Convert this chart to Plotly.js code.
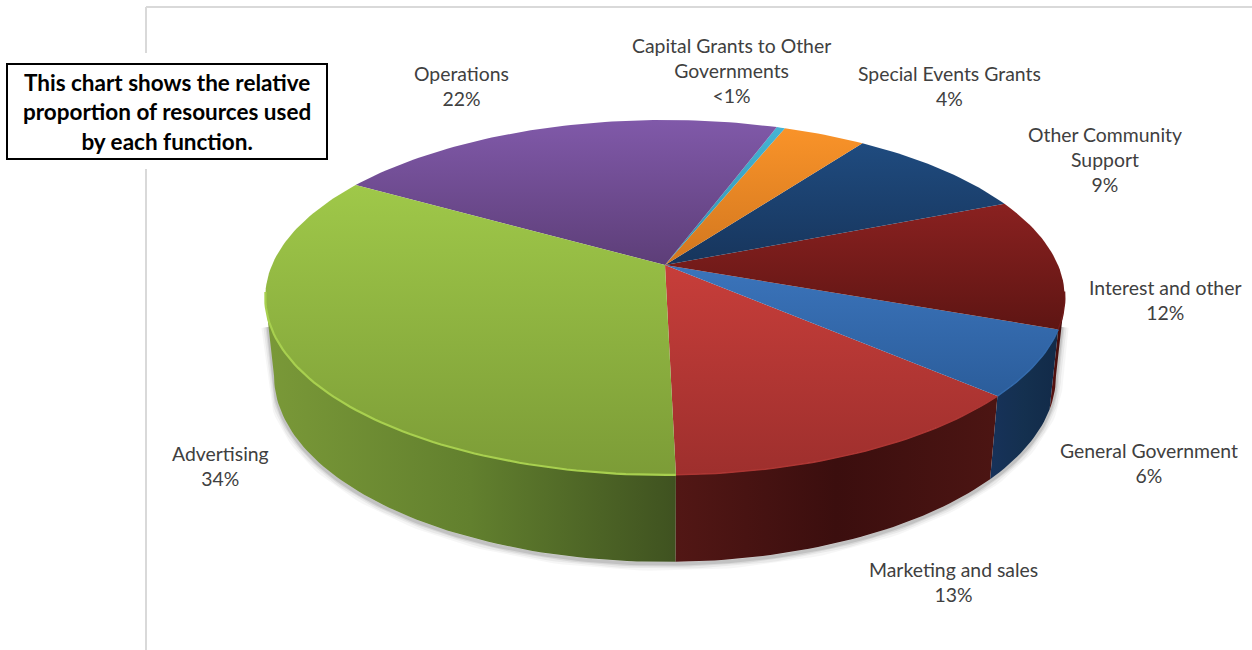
<!DOCTYPE html>
<html>
<head>
<meta charset="utf-8">
<script src="https://cdn.plot.ly/plotly-3.0.1.min.js"></script>
<style>html,body{margin:0;padding:0;background:#fff}#chart{width:1252px;height:650px}</style>
</head>
<body>
<div id="chart"></div>
<script>
// Share of resources by function, clockwise from the front of the pie.
const categories = ["Marketing and sales", "General Government", "Interest and other",
  "Other Community Support", "Special Events Grants", "Capital Grants to Other Governments",
  "Operations", "Advertising"];
const shares = [13, 6, 12, 9, 4, 0.4, 22, 34];
const shareLabels = ["13%", "6%", "12%", "9%", "4%", "<1%", "22%", "34%"];

// Wrapped label lines and where each label block is centred.
const labelLines = [["Marketing and sales"], ["General Government"], ["Interest and other"],
  ["Other Community", "Support"], ["Special Events Grants"], ["Capital Grants to Other", "Governments"],
  ["Operations"], ["Advertising"]];
const labelX = [953, 1149, 1165, 1105, 949, 731, 461, 220];
const labelY = [581.5, 462.5, 299.5, 159.5, 86, 70.5, 86, 465.5];

// Face shading per slice: top face runs vertically, rim runs horizontally.
const topShades = [["#c73e3a", "#9e2f2d"], ["#3b74bb", "#2b5d9b"], ["#8a2120", "#5e1513"],
  ["#1f4b7f", "#17355c"], ["#f99329", "#d2771f"], ["#45b4d4", "#2f8fae"],
  ["#8059a9", "#5d3e78"], ["#9fc849", "#7c9c37"]];
const sideShades = [["#521715", "#3b0e0e", "#4c1513"], ["#17325a", "#14304f", "#122a48"],
  ["#5e1513", "#4a0f0e", "#3a0b0b"], ["#14304f", "#14304f", "#14304f"],
  ["#a8621a", "#a8621a", "#a8621a"], ["#2a7f98", "#2a7f98", "#2a7f98"],
  ["#4a2f60", "#4a2f60", "#4a2f60"], ["#7a9938", "#62802e", "#3f5220"]];
const rimShades = ["#ad3633", "#336aac", "#6f1a19", "#214d80", "#f99a35", "#45b4d4", "#8a63b3", "#a8d04f"];
const rimWidths = [1.5, 1.5, 1.5, 1, 1, 1, 1, 2.2];

// Tilted-disc projection of the pie.
const cx = 665, apexY = 265, flatX = 393, flatY = 171.5, persp = 0.183;
const startDeg = 1.3, baseScale = 0.978, frontDrop = 87, dropFalloff = 0.048;
const silhouetteDeg = Math.acos(persp) * 180 / Math.PI;

function topPoint(deg) {
  const t = deg * Math.PI / 180, u = Math.sin(t), v = Math.cos(t), w = 1 - persp * v;
  return [cx + flatX * u / w, apexY + flatY * v / w];
}
function basePoint(deg) {
  const [x, y] = topPoint(deg);
  return [cx + (x - cx) * baseScale, y + frontDrop - (475 - y) * dropFalloff];
}
function arc(fn, a, b) {
  const n = Math.max(2, Math.ceil(Math.abs(b - a) / 1.2) + 1), pts = [];
  for (let i = 0; i < n; i++) pts.push(fn(a + (b - a) * i / (n - 1)));
  return pts;
}
// Point part of the way down the rim's outer edge at a given angle.
function rimEdge(deg, t) {
  const p = topPoint(deg), q = basePoint(deg);
  return [p[0] + (q[0] - p[0]) * t, p[1] + (q[1] - p[1]) * t];
}

const total = shares.reduce((s, d) => s + d, 0);
const edges = [startDeg];
shares.forEach(d => edges.push(edges[edges.length - 1] + d / total * 360));

const traces = [];
const axisTrace = {mode: "lines", hoverinfo: "skip", showlegend: false};

// Soft ground shadow hugging the visible rim, fading in part way down its edges.
const shadowPath = [rimEdge(-silhouetteDeg, 0.35)].concat(
  arc(basePoint, -silhouetteDeg, silhouetteDeg), [rimEdge(silhouetteDeg, 0.35)]);
[[14, 0.035], [10, 0.05], [6, 0.07], [3.5, 0.1]].forEach(([width, alpha]) => {
  traces.push({...axisTrace, x: shadowPath.map(p => p[0]), y: shadowPath.map(p => p[1] + 2),
    line: {color: `rgba(0,0,0,${alpha})`, width: width}});
});

// Rim faces, limited to the arc that faces the viewer.
const sideOrder = [2, 1, 7, 0];
sideOrder.forEach(i => {
  let a = edges[i], b = edges[i + 1];
  if (b > 180 && a > 180) { a = Math.max(a, 360 - silhouetteDeg); }
  else { b = Math.min(b, silhouetteDeg); }
  const upper = arc(topPoint, a, b);
  const lower = arc(basePoint, b, a);
  const pts = upper.concat(lower);
  pts.push(pts[0]);
  const xs = pts.map(p => p[0]), s = sideShades[i];
  traces.push({...axisTrace, name: categories[i], x: xs, y: pts.map(p => p[1]),
    line: {width: 0}, fill: "toself",
    fillgradient: {type: "horizontal", start: Math.min(...xs), stop: Math.max(...xs),
      colorscale: [[0, s[0]], [0.5, s[1]], [1, s[2]]]}});
});

// Top faces and their bevelled outer edge.
categories.forEach((name, i) => {
  const outer = arc(topPoint, edges[i], edges[i + 1]);
  const pts = [[cx, apexY]].concat(outer, [[cx, apexY]]);
  const ys = pts.map(p => p[1]);
  traces.push({...axisTrace, name: name, x: pts.map(p => p[0]), y: ys,
    line: {width: 0}, fill: "toself",
    fillgradient: {type: "vertical", start: Math.min(...ys), stop: Math.max(...ys),
      colorscale: [[0, topShades[i][0]], [1, topShades[i][1]]]}});
});
categories.forEach((name, i) => {
  const rim = arc(topPoint, edges[i], edges[i + 1]).filter(p => p[1] > 290);
  if (rim.length > 1) {
    traces.push({...axisTrace, x: rim.map(p => p[0]), y: rim.map(p => p[1]),
      line: {color: rimShades[i], width: rimWidths[i]}});
  }
});

const labelFont = {family: "Lato, Carlito, sans-serif", size: 19.4, color: "#404040"};
const annotations = categories.map((name, i) => ({
  xref: "x", yref: "y", x: labelX[i], y: labelY[i], xanchor: "center", yanchor: "middle",
  showarrow: false, align: "center", font: labelFont,
  text: labelLines[i].concat(shareLabels[i]).join("<br>")
}));
annotations.push({
  xref: "x", yref: "y", x: 167, y: 112, xanchor: "center", yanchor: "middle",
  showarrow: false, align: "center",
  font: {family: "Lato, Carlito, sans-serif", size: 22.5, color: "#000", weight: 700},
  text: "<b>This chart shows the relative<br>proportion of resources used<br>by each function.</b>"
});

const frameColor = "#d9d9d9";
const shapes = [
  {type: "line", x0: 146, x1: 1252, y0: 7, y1: 7, line: {color: frameColor, width: 2}, layer: "below"},
  {type: "line", x0: 146, x1: 146, y0: 7, y1: 53, line: {color: frameColor, width: 2}, layer: "below"},
  {type: "line", x0: 146, x1: 146, y0: 169, y1: 650, line: {color: frameColor, width: 2}, layer: "below"},
  {type: "rect", x0: 7, x1: 327, y0: 64, y1: 159, fillcolor: "#fff", line: {color: "#000", width: 2}}
];

Plotly.newPlot("chart", traces, {
  width: 1252, height: 650, margin: {l: 0, r: 0, t: 0, b: 0},
  paper_bgcolor: "#fff", plot_bgcolor: "#fff", showlegend: false,
  xaxis: {range: [0, 1252], visible: false, fixedrange: true},
  yaxis: {range: [650, 0], visible: false, fixedrange: true},
  shapes: shapes, annotations: annotations
}, {displayModeBar: false, staticPlot: true});
</script>
</body>
</html>
